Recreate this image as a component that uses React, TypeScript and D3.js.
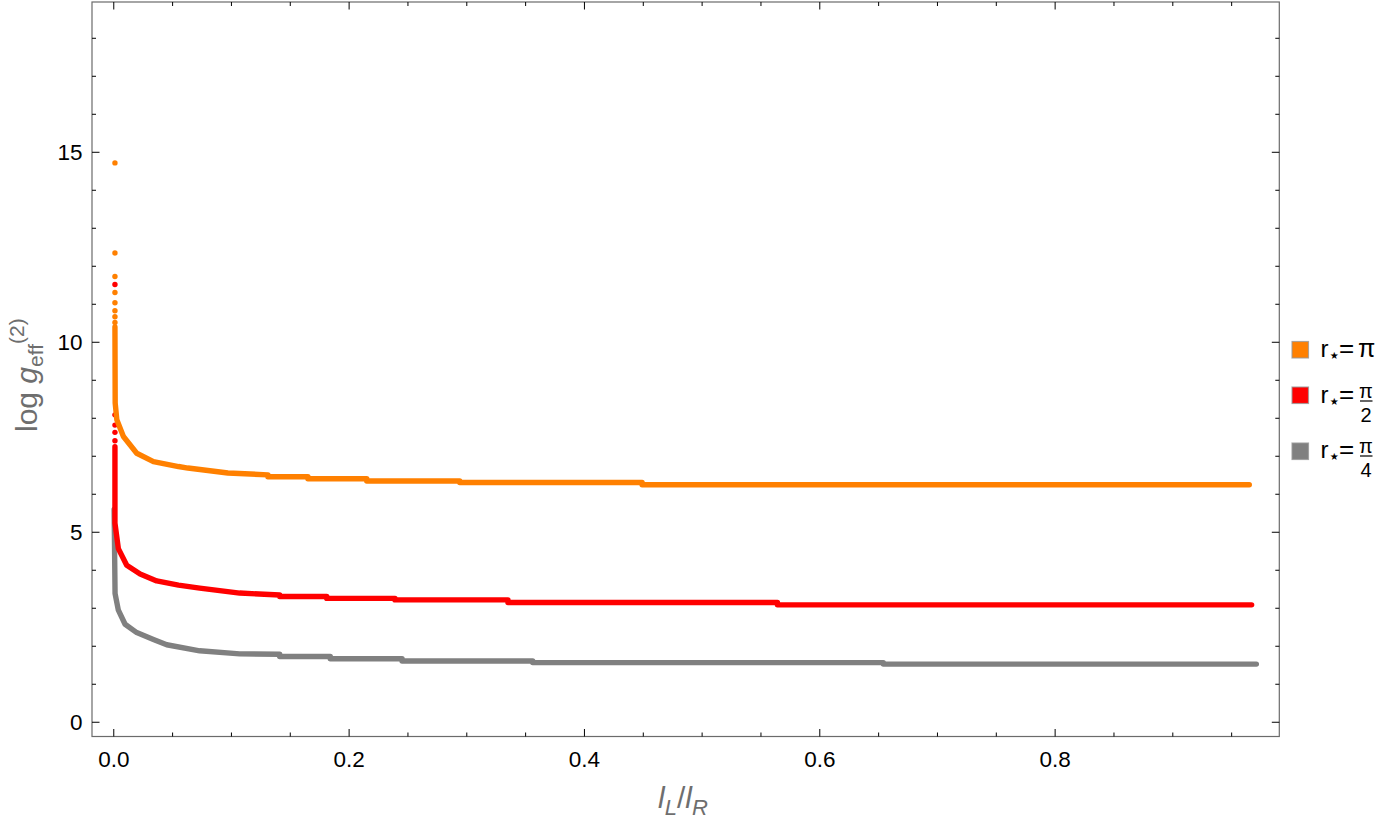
import React from "react";
import * as d3 from "d3";

const W = 1386;
const H = 824;
const frame = { left: 92, right: 1279.3, top: 2, bottom: 736.5 };
const X_DOMAIN = [-0.0185, 0.9905];
const Y_DOMAIN = [-0.375, 18.955];

const xMajor = [0, 0.2, 0.4, 0.6, 0.8];
const xMajorLabels = ["0.0", "0.2", "0.4", "0.6", "0.8"];
const yMajor = [0, 5, 10, 15];
const yMajorLabels = ["0", "5", "10", "15"];

// r* = pi
const piX = [0.001, 0.0012, 0.0026, 0.0082, 0.0195, 0.0337, 0.055, 0.063, 0.097, 0.131, 0.131, 0.165, 0.165, 0.215, 0.215, 0.294, 0.294, 0.449, 0.449, 0.965];
const piY = [10.4, 8.4, 7.96, 7.52, 7.08, 6.86, 6.73, 6.69, 6.56, 6.51, 6.46, 6.46, 6.41, 6.41, 6.35, 6.35, 6.31, 6.31, 6.25, 6.25];
const piSpikeY = [14.72, 12.35, 11.73, 11.31, 11.04, 10.83, 10.67, 10.52];

// r* = pi/2
const halfX = [0.001, 0.001, 0.0039, 0.011, 0.0224, 0.0365, 0.055, 0.073, 0.107, 0.141, 0.141, 0.181, 0.181, 0.239, 0.239, 0.335, 0.335, 0.564, 0.564, 0.967];
const halfY = [7.25, 5.24, 4.57, 4.13, 3.9, 3.72, 3.61, 3.53, 3.4, 3.35, 3.31, 3.31, 3.26, 3.26, 3.22, 3.22, 3.15, 3.15, 3.09, 3.09];
const halfSpikeY = [11.52, 8.09, 7.82, 7.63, 7.41];

// r* = pi/4
const quarterX = [0.0003, 0.0011, 0.0039, 0.0096, 0.0195, 0.0337, 0.045, 0.073, 0.107, 0.141, 0.141, 0.184, 0.184, 0.245, 0.245, 0.356, 0.356, 0.654, 0.654, 0.971];
const quarterY = [5.6, 3.39, 2.95, 2.58, 2.36, 2.18, 2.04, 1.88, 1.8, 1.79, 1.73, 1.73, 1.67, 1.67, 1.61, 1.61, 1.57, 1.57, 1.53, 1.53];

const SPIKE_X = 0.001;

const seriesColors = ["#808080", "#ff0000", "#ff8000"];
const legendColors = ["#ff8000", "#ff0000", "#808080"];
const legendDenoms = ["", "2", "4"];

const FONT = "'Liberation Sans', Arial, Helvetica, sans-serif";
const LABEL_GRAY = "#6e6e6e";

export default function App() {
  const x = d3.scaleLinear().domain(X_DOMAIN).range([frame.left, frame.right]);
  const y = d3.scaleLinear().domain(Y_DOMAIN).range([frame.bottom, frame.top]);

  const line = d3
    .line<[number, number]>()
    .x((d) => x(d[0]))
    .y((d) => y(d[1]));

  const series = [
    { xs: quarterX, ys: quarterY, dots: [] as number[] },
    { xs: halfX, ys: halfY, dots: halfSpikeY },
    { xs: piX, ys: piY, dots: piSpikeY },
  ];

  const xMinor = d3.range(0, 0.951, 0.05).filter((v) => !xMajor.some((m) => Math.abs(m - v) < 1e-6));
  const yMinor = d3.range(0, 19, 1).filter((v) => !yMajor.includes(v));

  return (
    <svg width={W} height={H} style={{ position: "absolute", left: 0, top: 0 }} fontFamily={FONT}>
      <rect width={W} height={H} fill="#fff" />

      {/* data */}
      <g>
        {series.map((s, i) => (
          <g key={i}>
            <path
              d={line(s.xs.map((v, j) => [v, s.ys[j]]) as [number, number][]) || ""}
              fill="none"
              stroke={seriesColors[i]}
              strokeWidth={5.4}
              strokeLinecap="round"
              strokeLinejoin="round"
            />
            {s.dots.map((v, j) => (
              <circle key={j} cx={x(SPIKE_X)} cy={y(v)} r={2.7} fill={seriesColors[i]} />
            ))}
          </g>
        ))}
      </g>

      {/* frame */}
      <rect
        x={frame.left}
        y={frame.top}
        width={frame.right - frame.left}
        height={frame.bottom - frame.top}
        fill="none"
        stroke="#6b6b6b"
        strokeWidth={1.2}
      />

      {/* ticks */}
      <g stroke="#000" strokeWidth={1}>
        {xMajor.map((v) => (
          <g key={"xm" + v}>
            <line x1={x(v)} x2={x(v)} y1={frame.bottom} y2={frame.bottom - 7.5} />
            <line x1={x(v)} x2={x(v)} y1={frame.top} y2={frame.top + 7.5} />
          </g>
        ))}
        {xMinor.map((v) => (
          <g key={"xn" + v}>
            <line x1={x(v)} x2={x(v)} y1={frame.bottom} y2={frame.bottom - 4} />
            <line x1={x(v)} x2={x(v)} y1={frame.top} y2={frame.top + 4} />
          </g>
        ))}
        {yMajor.map((v) => (
          <g key={"ym" + v}>
            <line x1={frame.left} x2={frame.left + 7.5} y1={y(v)} y2={y(v)} />
            <line x1={frame.right} x2={frame.right - 7.5} y1={y(v)} y2={y(v)} />
          </g>
        ))}
        {yMinor.map((v) => (
          <g key={"yn" + v}>
            <line x1={frame.left} x2={frame.left + 4} y1={y(v)} y2={y(v)} />
            <line x1={frame.right} x2={frame.right - 4} y1={y(v)} y2={y(v)} />
          </g>
        ))}
      </g>

      {/* tick labels */}
      <g fontSize={22.5} fill="#000">
        {xMajor.map((v, i) => (
          <text key={"xl" + v} x={x(v)} y={767} textAnchor="middle">
            {xMajorLabels[i]}
          </text>
        ))}
        {yMajor.map((v, i) => (
          <text key={"yl" + v} x={82.5} y={y(v) + 8} textAnchor="end">
            {yMajorLabels[i]}
          </text>
        ))}
      </g>

      {/* axis labels */}
      <text x={683} y={808} textAnchor="middle" fontSize={30} fill={LABEL_GRAY}>
        <tspan fontStyle="italic">l</tspan>
        <tspan fontSize={22} fontStyle="italic" dy={7}>L</tspan>
        <tspan dy={-7}>/</tspan>
        <tspan fontStyle="italic">l</tspan>
        <tspan fontSize={22} fontStyle="italic" dy={7}>R</tspan>
      </text>
      <text transform="translate(37,432) rotate(-90)" fontSize={30} fill={LABEL_GRAY}>
        <tspan>log </tspan>
        <tspan fontStyle="italic">g</tspan>
        <tspan fontSize={21} dy={6}>eff</tspan>
        <tspan fontSize={21} dy={-19}>(2)</tspan>
      </text>

      {/* legend */}
      <g>
        {legendColors.map((c, i) => {
          const cy = [349.5, 395, 451][i];
          const base = [357, 403, 458][i];
          const d = legendDenoms[i];
          return (
            <g key={"lg" + i}>
              <rect x={1292} y={cy - 8} width={16.5} height={16.5} fill={c} stroke="#9a9a9a" strokeOpacity={0.8} strokeWidth={1.2} />
              <text x={1320.5} y={base} fontSize={24} fill="#000">r</text>
              <text x={1327.5} y={base + 5} fontSize={20} fill="#000">⋆</text>
              <text x={1339} y={base} fontSize={26} fill="#000">=</text>
              {d === "" ? (
                <text x={1366.5} y={base} fontSize={25} fill="#000" textAnchor="middle">π</text>
              ) : (
                <g>
                  <text x={1366} y={base - 5} fontSize={20} fill="#000" textAnchor="middle">π</text>
                  <line x1={1360} x2={1372.5} y1={base - 2} y2={base - 2} stroke="#000" strokeWidth={1.2} />
                  <text x={1366} y={base + 19} fontSize={20} fill="#000" textAnchor="middle">{d}</text>
                </g>
              )}
            </g>
          );
        })}
      </g>
    </svg>
  );
}
